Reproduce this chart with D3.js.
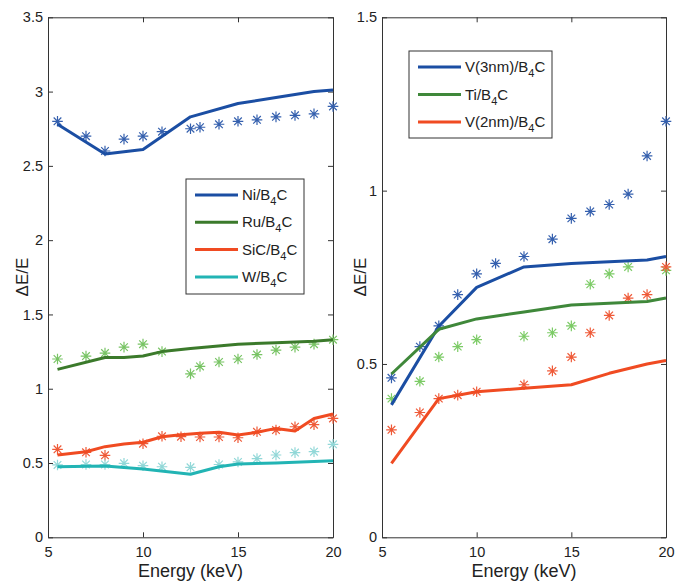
<!DOCTYPE html>
<html><head><meta charset="utf-8">
<script src="https://cdn.jsdelivr.net/npm/d3@7"></script>
<style>body{margin:0;background:#fff}svg{display:block;font-family:"Liberation Sans",Arial,sans-serif}</style>
</head><body><svg id="c" width="676" height="581"></svg>
<script>
// ---- data ----
const xTicks = [5, 10, 15, 20];
const leftYTicks = [0, 0.5, 1, 1.5, 2, 2.5, 3, 3.5];
const rightYTicks = [0, 0.5, 1, 1.5];

const niLine = [[5.5,2.78],[8,2.58],[10,2.61],[12.5,2.83],[15,2.92],[17,2.96],[19,3.0],[20,3.01]];
const niStars = [[5.5,2.80],[7,2.70],[8,2.60],[9,2.68],[10,2.70],[11,2.73],[12.5,2.75],[13,2.76],[14,2.78],[15,2.80],[16,2.81],[17,2.83],[18,2.84],[19,2.85],[20,2.90]];
const ruLine = [[5.5,1.13],[8,1.21],[9,1.21],[10,1.22],[11,1.25],[12.5,1.27],[15,1.30],[17,1.31],[19,1.32],[20,1.33]];
const ruStars = [[5.5,1.20],[7,1.22],[8,1.24],[9,1.28],[10,1.30],[11,1.25],[12.5,1.10],[13,1.15],[14,1.18],[15,1.20],[16,1.23],[17,1.26],[18,1.28],[19,1.30],[20,1.33]];
const sicLine = [[5.5,0.554],[7,0.576],[8,0.61],[9,0.628],[10,0.64],[11,0.677],[12,0.69],[13,0.70],[14,0.707],[15,0.688],[16,0.707],[17,0.733],[18,0.715],[19,0.80],[20,0.83]];
const sicStars = [[5.5,0.592],[7,0.572],[8,0.552],[10,0.63],[11,0.68],[12,0.677],[13,0.675],[14,0.675],[15,0.67],[16,0.71],[17,0.722],[18,0.744],[19,0.758],[20,0.80]];
const wLine = [[5.5,0.475],[8,0.48],[10,0.46],[12.5,0.424],[14,0.475],[15,0.493],[17,0.50],[20,0.515]];
const wStars = [[5.5,0.487],[7,0.49],[8,0.49],[9,0.498],[10,0.482],[11,0.475],[12.5,0.471],[14,0.49],[15,0.507],[16,0.53],[17,0.554],[18,0.57],[19,0.576],[20,0.626]];

const v3Line = [[5.5,0.382],[8,0.609],[10,0.721],[12.5,0.78],[15,0.79],[19,0.80],[20,0.81]];
const v3Stars = [[5.5,0.46],[7,0.55],[8,0.61],[9,0.70],[10,0.76],[11,0.79],[12.5,0.81],[14,0.86],[15,0.92],[16,0.94],[17,0.96],[18,0.99],[19,1.10],[20,1.20]];
const tiLine = [[5.5,0.471],[8,0.60],[10,0.63],[12.5,0.65],[15,0.67],[19,0.68],[20,0.69]];
const tiStars = [[5.5,0.40],[7,0.45],[8,0.52],[9,0.55],[10,0.57],[12.5,0.58],[14,0.59],[15,0.61],[16,0.73],[17,0.76],[18,0.78],[20,0.77]];
const v2Line = [[5.5,0.213],[8,0.40],[9,0.41],[10,0.42],[12.5,0.43],[15,0.44],[17,0.473],[19,0.50],[20,0.51]];
const v2Stars = [[5.5,0.31],[7,0.36],[8,0.40],[9,0.41],[10,0.42],[12.5,0.44],[14,0.48],[15,0.52],[16,0.59],[17,0.64],[18,0.69],[19,0.70],[20,0.78]];

const leftSeries = [
  {name:"Ni", line:niLine, stars:niStars, lc:"#1b4ea3", sc:"#3560ae"},
  {name:"Ru", line:ruLine, stars:ruStars, lc:"#3b7a2b", sc:"#78c464"},
  {name:"SiC", line:sicLine, stars:sicStars, lc:"#f04b22", sc:"#ef5a38"},
  {name:"W", line:wLine, stars:wStars, lc:"#22b4b4", sc:"#92d8d8"}
];
const rightSeries = [
  {name:"V(3nm)", line:v3Line, stars:v3Stars, lc:"#1b4ea3", sc:"#3560ae"},
  {name:"Ti", line:tiLine, stars:tiStars, lc:"#3f883a", sc:"#7ccb66"},
  {name:"V(2nm)", line:v2Line, stars:v2Stars, lc:"#f04b22", sc:"#ef5a38"}
];

const svg = d3.select("#c");
const plotTop = 17.3, plotBottom = 537.3;

function panel(x0, x1, yMax, yTicks, series, legend, ylabX) {
  const g = svg.append("g");
  const x = d3.scaleLinear().domain([5,20]).range([x0,x1]);
  const y = d3.scaleLinear().domain([0,yMax]).range([plotBottom,plotTop]);
  const fmt = d => String(d);
  const ax = [
    {a:d3.axisBottom(x).tickValues(xTicks).tickFormat(fmt).tickSizeInner(-5).tickSizeOuter(0).tickPadding(9), t:`translate(0,${plotBottom})`, lab:true},
    {a:d3.axisTop(x).tickValues(xTicks).tickSizeInner(-5).tickSizeOuter(0), t:`translate(0,${plotTop})`, lab:false},
    {a:d3.axisLeft(y).tickValues(yTicks).tickFormat(fmt).tickSizeInner(-5).tickSizeOuter(0).tickPadding(5), t:`translate(${x0},0)`, lab:true},
    {a:d3.axisRight(y).tickValues(yTicks).tickSizeInner(-5).tickSizeOuter(0), t:`translate(${x1},0)`, lab:false}
  ];
  ax.forEach(o => {
    const ag = g.append("g").attr("transform", o.t).call(o.a);
    ag.select(".domain").attr("stroke","#333").attr("stroke-width",1);
    ag.selectAll(".tick line").attr("stroke","#333");
    ag.selectAll(".tick text").attr("font-size",14.5).attr("fill","#222").attr("font-family","Liberation Sans, Arial, sans-serif");
    if(!o.lab) ag.selectAll(".tick text").remove();
  });
  const line = d3.line().x(d=>x(d[0])).y(d=>y(d[1]));
  const star = r => `M${-r},0L${r},0M0,${-r}L0,${r}M${-r*0.72},${-r*0.72}L${r*0.72},${r*0.72}M${-r*0.72},${r*0.72}L${r*0.72},${-r*0.72}`;
  series.forEach(s => {
    g.append("g").selectAll("path").data(s.stars).join("path")
      .attr("transform", d=>`translate(${x(d[0])},${y(d[1])})`)
      .attr("d", star(5.3)).attr("stroke", s.sc).attr("stroke-width",1.2).attr("fill","none");
  });
  series.forEach(s => {
    g.append("path").datum(s.line).attr("d", line).attr("fill","none")
      .attr("stroke", s.lc).attr("stroke-width",3).attr("stroke-linejoin","round");
  });
  const lg = g.append("g");
  lg.append("rect").attr("x",legend.x).attr("y",legend.y).attr("width",legend.w).attr("height",legend.h)
    .attr("fill","#fff").attr("stroke","#333").attr("stroke-width",1);
  series.forEach((s,i) => {
    const yy = legend.y + legend.first + i*legend.step;
    lg.append("line").attr("x1",legend.x+9).attr("x2",legend.x+52).attr("y1",yy).attr("y2",yy)
      .attr("stroke", s.lc).attr("stroke-width",3);
    const t = lg.append("text").attr("x",legend.x+56).attr("y",yy+5).attr("font-size",15).attr("fill","#222");
    t.append("tspan").text(s.name + "/B");
    t.append("tspan").attr("dy",5).attr("font-size",11).text("4");
    t.append("tspan").attr("dy",-5).text("C");
  });
  g.append("text").attr("x",(x0+x1)/2).attr("y",577).attr("text-anchor","middle").attr("font-size",18).attr("fill","#222").text("Energy (keV)");
  g.append("text").attr("transform",`translate(${ylabX},${277}) rotate(-90)`).attr("text-anchor","middle")
    .attr("font-size",17).attr("fill","#222").text("ΔE/E");
}

panel(48, 333, 3.5, leftYTicks, leftSeries, {x:186, y:179, w:118, h:115, first:16, step:27.3}, 28);
panel(382, 666, 1.5, rightYTicks, rightSeries, {x:409, y:51, w:143, h:87, first:16, step:27.5}, 366);
</script></body></html>
